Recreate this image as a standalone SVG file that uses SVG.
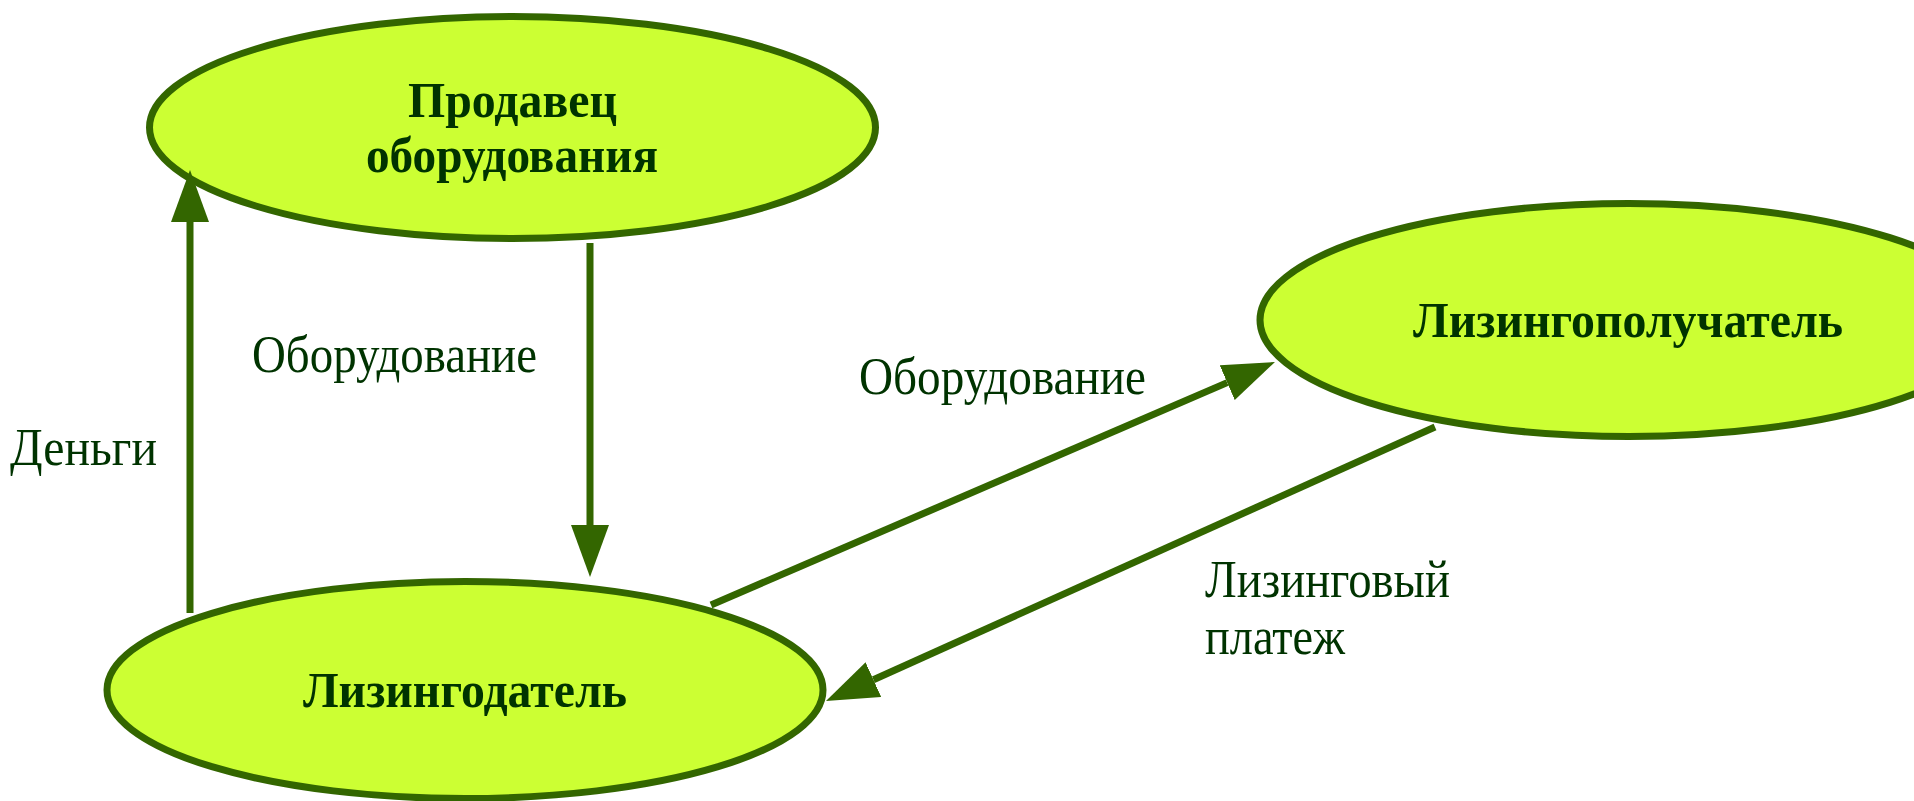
<svg xmlns="http://www.w3.org/2000/svg" width="1914" height="801" viewBox="0 0 1914 801">
  <style>
    .node { fill: #CCFF33; stroke: #336600; stroke-width: 7; }
    .ntext { font-family: "Liberation Serif", "Times New Roman", serif; font-weight: bold; font-size: 51px; fill: #003300; text-anchor: middle; }
    .label { font-family: "Liberation Serif", "Times New Roman", serif; font-size: 52px; fill: #003300; }
    .conn { stroke: #336600; stroke-width: 7; fill: none; marker-end: url(#arrow); }
  </style>
  <defs>
    <marker id="arrow" viewBox="0 0 52 38" refX="0" refY="19" markerWidth="52" markerHeight="38" markerUnits="userSpaceOnUse" orient="auto">
      <path d="M0,0 L52,19 L0,38 z" fill="#336600"/>
    </marker>
  </defs>
  <rect width="1914" height="801" fill="#FFFFFF"/>

  <g id="seller">
    <ellipse class="node" cx="512.5" cy="127.5" rx="363" ry="111"/>
    <text class="ntext" x="512.5" y="117" textLength="209" lengthAdjust="spacingAndGlyphs">Продавец</text>
    <text class="ntext" x="512" y="172" textLength="292" lengthAdjust="spacingAndGlyphs">оборудования</text>
  </g>

  <g id="lessee">
    <ellipse class="node" cx="1629" cy="320" rx="369" ry="116.5"/>
    <text class="ntext" x="1628" y="337" textLength="430" lengthAdjust="spacingAndGlyphs">Лизингополучатель</text>
  </g>

  <g id="lessor">
    <ellipse class="node" cx="465" cy="690" rx="358" ry="108.5"/>
    <text class="ntext" x="465" y="707" textLength="324" lengthAdjust="spacingAndGlyphs">Лизингодатель</text>
  </g>

  <g id="connectors">
    <line class="conn" x1="190" y1="613" x2="190" y2="222"/>
    <line class="conn" x1="590" y1="243" x2="590" y2="525"/>
    <line class="conn" x1="711" y1="605" x2="1227.2" y2="382.6"/>
    <line class="conn" x1="1435" y1="427" x2="873.4" y2="679.7"/>
  </g>

  <g id="labels">
    <text class="label" x="10" y="465" textLength="147" lengthAdjust="spacingAndGlyphs">Деньги</text>
    <text class="label" x="252" y="372" textLength="285" lengthAdjust="spacingAndGlyphs">Оборудование</text>
    <text class="label" x="859" y="394" textLength="287" lengthAdjust="spacingAndGlyphs">Оборудование</text>
    <text class="label" x="1205" y="597" textLength="245" lengthAdjust="spacingAndGlyphs">Лизинговый</text>
    <text class="label" x="1205" y="654" textLength="140" lengthAdjust="spacingAndGlyphs">платеж</text>
  </g>
</svg>
